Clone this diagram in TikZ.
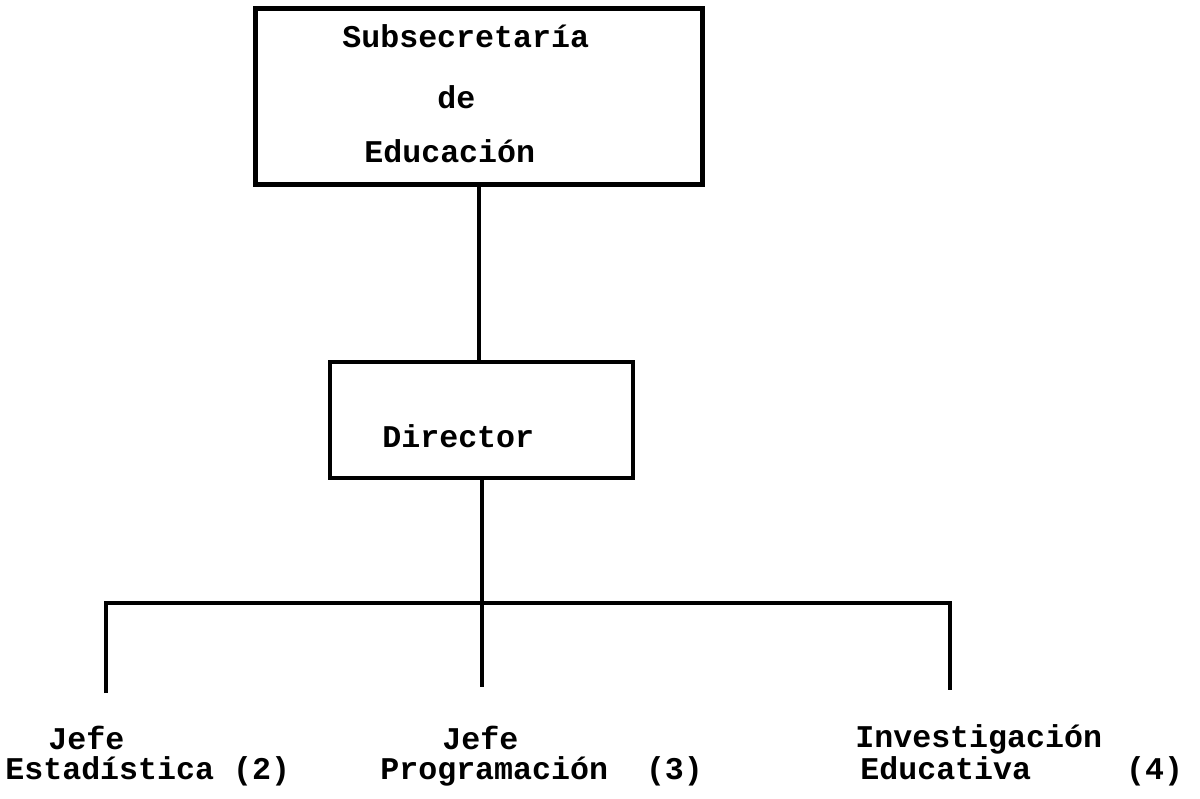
\documentclass[tikz,border=0pt]{standalone}
\usepackage{fontspec}
\setmonofont{Liberation Mono}
\usepackage{tikz}

\tikzset{
  caja/.style={draw,line width=0.08cm,inner sep=0pt,outer sep=0pt},
  texto/.style={anchor=base west,inner sep=0pt,text height=0.4cm,text depth=0.08cm,font=\ttfamily\bfseries\fontsize{18}{18}\selectfont},
  linea/.style={draw,line width=0.08cm}
}

\begin{document}
\begin{tikzpicture}[x=0.02cm,y=-0.02cm]
\useasboundingbox (0,0) rectangle (1200,798);
\node[caja,line width=0.1cm,minimum width=8.96cm,minimum height=3.54cm] (subsec) at (479,96.5) {};
\node[caja,minimum width=6.06cm,minimum height=2.32cm] (dir) at (481.5,420) {};
\node[texto] (subsec1) at (342,47) {Subsecretaría};
\node[texto] (subsec2) at (437,108) {de};
\node[texto] (subsec3) at (364,162) {Educación};
\node[texto] (dir1) at (382,447) {Director};
\node[texto] (est1) at (48,749) {Jefe};
\node[texto] (est2) at (5,779) {Estadística (2)};
\node[texto] (prog1) at (442,749) {Jefe};
\node[texto] (prog2) at (380,779) {Programación~~(3)};
\node[texto] (inv1) at (855,747) {Investigación};
\node[texto] (inv2) at (860,779) {Educativa~~~~~(4)};
\coordinate (izq) at (106,603);
\coordinate (der) at (950,603);
\coordinate (fin1) at (106,693);
\coordinate (fin2) at (483,687);
\coordinate (fin3) at (950,690);
\path[linea] (subsec.south) -- (subsec.south |- dir.north);
\path[linea] (dir.south) -- (dir.south |- fin2);
\path[linea] (fin1) -- (izq) -- (der) -- (fin3);
\end{tikzpicture}
\end{document}
